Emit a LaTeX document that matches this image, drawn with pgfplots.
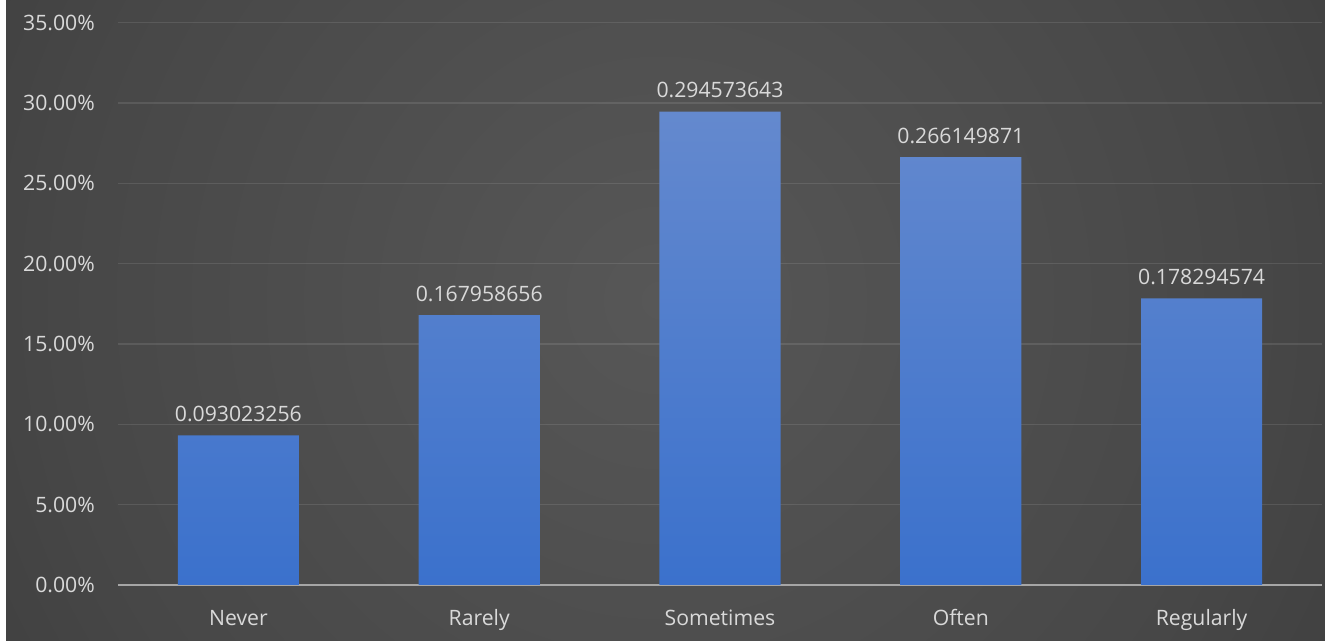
\documentclass[border=0pt]{standalone}
\usepackage{fontspec}
\setmainfont{Open Sans}
\usepackage{pgfplots}
\pgfplotsset{compat=1.18}
\usepackage{pgfplotstable}
\definecolor{txt}{HTML}{D9D9D9}
\definecolor{bartop}{HTML}{6489CE}
\definecolor{barbot}{HTML}{3B71CC}
\definecolor{axln}{HTML}{A6A6A6}
\definecolor{bga}{HTML}{575757}
\definecolor{bgb}{HTML}{474747}
\definecolor{bgc}{HTML}{2B2B2B}
\definecolor{bgd}{HTML}{222222}
\pgfdeclareradialshading{bgrad}{\pgfpoint{0bp}{0bp}}{color(0bp)=(bga); color(20bp)=(bgb); color(44bp)=(bgc); color(50bp)=(bgd)}
\pgfplotstableread{
x y lab
0 9.3023256 0.093023256
1 16.7958656 0.167958656
2 29.4573643 0.294573643
3 26.6149871 0.266149871
4 17.8294574 0.178294574
}\datatable
\begin{document}
\begin{tikzpicture}
\fill[white] (0pt,0pt) rectangle (4.5pt,480.75pt);
\begin{scope}
\clip (4.5pt,0pt) rectangle (993.75pt,480.75pt);
\shade[shading=bgrad] (495pt,255.75pt) circle (562.5pt);
\end{scope}
\begin{axis}[
  at={(88.5pt,42pt)}, anchor=south west,
  scale only axis, width=903pt, height=421.875pt,
  xmin=-0.5, xmax=4.5, ymin=0, ymax=35,
  ybar, bar width=0.503,
  xtick=data, xticklabels={Never,Rarely,Sometimes,Often,Regularly},
  ytick={0,5,10,15,20,25,30,35},
  yticklabels={0.00\%,5.00\%,10.00\%,15.00\%,20.00\%,25.00\%,30.00\%,35.00\%},
  major tick length=0pt,
  axis x line*=bottom, axis y line*=left,
  x axis line style={draw=axln, line width=1.3pt, -},
  y axis line style={draw=none},
  ymajorgrids, grid style={draw=white, opacity=0.1, line width=1pt},
  tick label style={text=txt, font=\fontsize{15.9}{19}\selectfont, inner sep=0pt},
  xticklabel style={anchor=base, yshift=-30.5pt},
  yticklabel style={anchor=east, xshift=-17.25pt},
  nodes near coords={\pgfplotspointmeta},
  point meta=explicit symbolic,
  every node near coord/.append style={anchor=base, yshift=10.5pt, inner sep=0pt, text=txt, font=\fontsize{15.9}{19}\selectfont},
  clip=false,
]
\addplot[draw=none, top color=bartop, bottom color=barbot] table[x=x, y=y, meta=lab] {\datatable};
\end{axis}
\pgfresetboundingbox
\useasboundingbox (0pt,0pt) rectangle (993.75pt,480.75pt);
\end{tikzpicture}
\end{document}
